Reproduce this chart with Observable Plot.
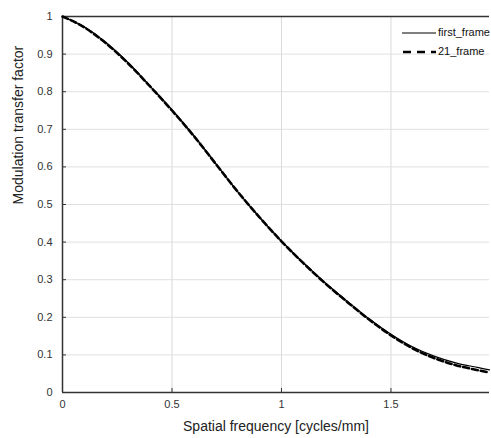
<!DOCTYPE html>
<html><head><meta charset="utf-8">
<script src="https://cdn.jsdelivr.net/npm/d3@7"></script>
<script src="https://cdn.jsdelivr.net/npm/@observablehq/plot@0.6"></script>
<style>
body{margin:0;background:#fff;}
#wrap{position:relative;width:491px;height:438px;font-family:"Liberation Sans",Arial,sans-serif;}
#legend{position:absolute;left:402px;top:23px;font-size:11px;color:#111;line-height:19px;}
#legend div{display:flex;align-items:center;height:19px;}
#legend svg{margin-right:2px;}
</style>
</head><body><div id="wrap"></div>
<script>
const freq = [0,0.1,0.2,0.3,0.4,0.5,0.6,0.7,0.8,0.9,1.0,1.1,1.2,1.3,1.4,1.5,1.6,1.7,1.8,1.9,1.95];
const firstFrame = [1.000,0.972,0.930,0.877,0.815,0.752,0.683,0.609,0.534,0.466,0.403,0.345,0.292,0.243,0.196,0.155,0.121,0.096,0.078,0.066,0.060];
const frame21 = [1.000,0.971,0.928,0.875,0.814,0.750,0.682,0.608,0.534,0.466,0.402,0.344,0.290,0.241,0.194,0.152,0.117,0.091,0.072,0.059,0.053];
const seriesNames = ["first_frame","21_frame"];
const xTicks = [0,0.5,1,1.5];
const yTicks = [0,0.1,0.2,0.3,0.4,0.5,0.6,0.7,0.8,0.9,1];
const xTitle = "Spatial frequency [cycles/mm]";
const yTitle = "Modulation transfer factor";

const solid = freq.map((f,i)=>({f, v:firstFrame[i]}));
const dashed = freq.map((f,i)=>({f, v:frame21[i]}));
const fmt = d => String(+d.toFixed(2));

const chart = Plot.plot({
  width:491, height:438,
  marginLeft:62, marginRight:2, marginTop:16, marginBottom:46,
  style:{fontFamily:'"Liberation Sans",Arial,sans-serif', background:"#fff"},
  x:{domain:[0,1.95]},
  y:{domain:[0,1]},
  marks:[
    Plot.gridX(xTicks.slice(1), {stroke:"#d9d9d9", strokeOpacity:1}),
    Plot.gridY(yTicks.slice(1,-1), {stroke:"#e0e0e0", strokeOpacity:1}),
    Plot.axisX(xTicks, {tickSize:-4, tickPadding:12, tickFormat:fmt, fontSize:11, color:"#333", label:null, stroke:"#333"}),
    Plot.axisY(yTicks, {tickSize:-4, tickPadding:14, tickFormat:fmt, fontSize:11, color:"#333", label:null, stroke:"#333"}),
    Plot.ruleX([0], {stroke:"#333", strokeWidth:1.5}),
    Plot.ruleY([0], {stroke:"#333", strokeWidth:1.5}),
    Plot.ruleY([1], {stroke:"#333", strokeWidth:1.5}),
    Plot.line(dashed, {x:"f", y:"v", stroke:"#000", strokeWidth:2.6, strokeDasharray:"6,3", curve:"monotone-x"}),
    Plot.line(solid, {x:"f", y:"v", stroke:"#000", strokeWidth:1.2, curve:"monotone-x"}),
    Plot.text([xTitle], {frameAnchor:"bottom", dy:38, fontSize:14, fill:"#222"}),
    Plot.text([yTitle], {frameAnchor:"left", dx:-44, rotate:-90, fontSize:14, fill:"#222"})
  ]
});
const wrap = document.getElementById("wrap");
wrap.appendChild(chart);
const leg = document.createElement("div");
leg.id = "legend";
leg.innerHTML =
  `<div><svg width="34" height="6"><line x1="0" x2="34" y1="3" y2="3" stroke="#000" stroke-width="1.2"/></svg><span>${seriesNames[0]}</span></div>` +
  `<div><svg width="34" height="6"><line x1="1" x2="34" y1="3" y2="3" stroke="#000" stroke-width="2.6" stroke-dasharray="8,6"/></svg><span>${seriesNames[1]}</span></div>`;
wrap.appendChild(leg);
</script>
</body></html>
